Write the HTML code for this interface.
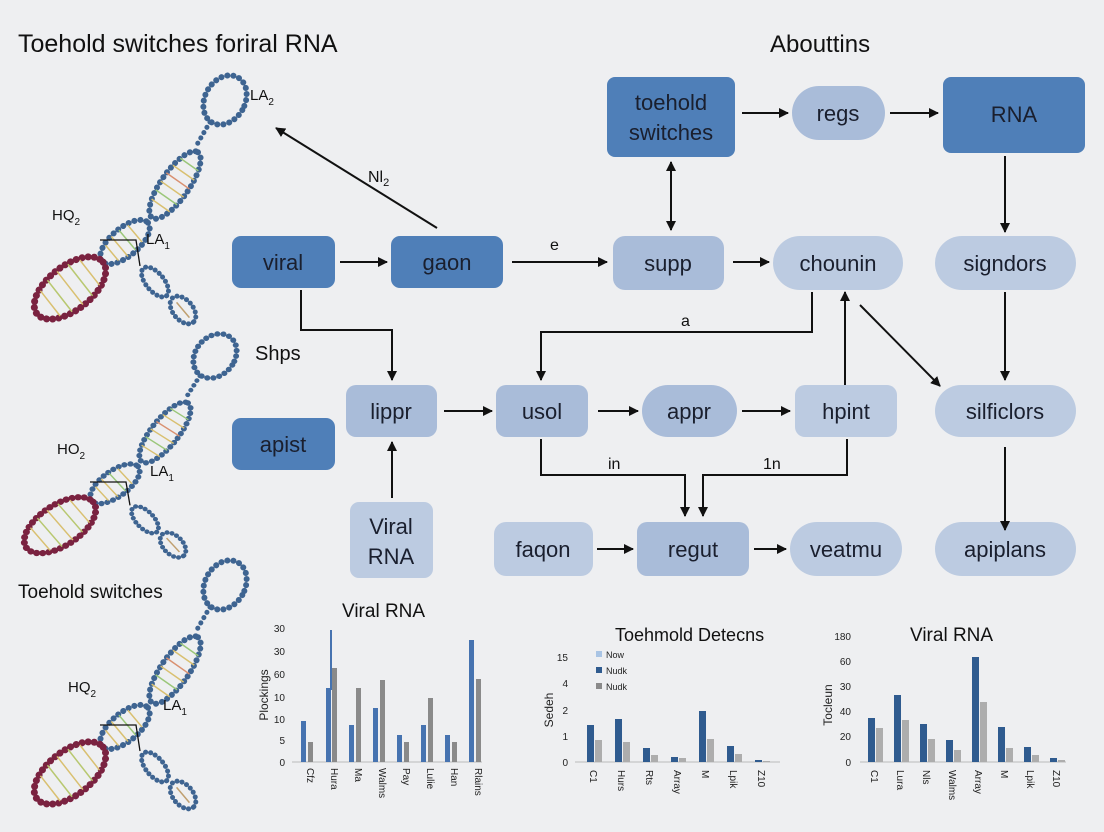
<!DOCTYPE html>
<html><head><meta charset="utf-8"><style>
html,body{margin:0;padding:0;background:#eeeff1;}
svg{display:block;font-family:"Liberation Sans",Arial,sans-serif;}
</style></head><body>
<svg width="1104" height="832" viewBox="0 0 1104 832" xmlns="http://www.w3.org/2000/svg">
<defs>
<marker id="ah" markerWidth="10" markerHeight="10" refX="9" refY="5" orient="auto" markerUnits="userSpaceOnUse"><path d="M0,0 L10,5 L0,10 z" fill="#111"/></marker>
<g id="helix">
  <!-- top loop -->
  <ellipse cx="225" cy="40" rx="20" ry="26" transform="rotate(30 225 40)" fill="none" stroke="#3e6491" stroke-width="6" stroke-dasharray="0.1 6" stroke-linecap="round"/>
  <line x1="210" y1="62" x2="195" y2="88" stroke="#3e6491" stroke-width="5" stroke-dasharray="0.1 6" stroke-linecap="round"/>
  <g transform="rotate(-55 175 125)">
    <ellipse cx="175" cy="125" rx="40" ry="14" fill="none" stroke="#3e6491" stroke-width="6" stroke-dasharray="0.1 6" stroke-linecap="round"/>
    <g stroke="#d9c070" stroke-width="1.5"><line x1="150" y1="114" x2="150" y2="136"/><line x1="160" y1="112" x2="160" y2="138" stroke="#9bc77a"/><line x1="170" y1="111" x2="170" y2="139"/><line x1="180" y1="111" x2="180" y2="139" stroke="#d99070"/><line x1="190" y1="112" x2="190" y2="138"/><line x1="200" y1="114" x2="200" y2="136" stroke="#9bc77a"/></g>
  </g>
  <g transform="rotate(-40 125 182)">
    <ellipse cx="125" cy="182" rx="30" ry="14" fill="none" stroke="#3e6491" stroke-width="6" stroke-dasharray="0.1 6" stroke-linecap="round"/>
    <g stroke="#d9c070" stroke-width="1.5"><line x1="108" y1="172" x2="108" y2="192"/><line x1="118" y1="169" x2="118" y2="195"/><line x1="128" y1="169" x2="128" y2="195" stroke="#9bc77a"/><line x1="138" y1="171" x2="138" y2="193"/></g>
  </g>
  <g transform="rotate(-38 70 228)">
    <ellipse cx="70" cy="228" rx="42" ry="22" fill="none" stroke="#7a2240" stroke-width="7" stroke-dasharray="0.1 6" stroke-linecap="round"/>
    <g stroke="#d9c070" stroke-width="1.5"><line x1="45" y1="212" x2="45" y2="244"/><line x1="57" y1="208" x2="57" y2="248" stroke="#b8c870"/><line x1="70" y1="207" x2="70" y2="249"/><line x1="83" y1="208" x2="83" y2="248" stroke="#b8c870"/><line x1="95" y1="212" x2="95" y2="244"/></g>
  </g>
  <g transform="rotate(50 155 222)"><ellipse cx="155" cy="222" rx="18" ry="9" fill="none" stroke="#3e6491" stroke-width="5" stroke-dasharray="0.1 5" stroke-linecap="round"/></g>
  <g transform="rotate(50 183 250)"><ellipse cx="183" cy="250" rx="16" ry="10" fill="none" stroke="#3e6491" stroke-width="5" stroke-dasharray="0.1 5" stroke-linecap="round"/><line x1="173" y1="250" x2="193" y2="250" stroke="#c0a070" stroke-width="1.5"/></g>
  <path d="M100 180 L136 180 L140 206" fill="none" stroke="#111" stroke-width="1.3"/>
</g>
</defs>

<rect width="1104" height="832" fill="#eeeff1"/>

<!-- helices -->
<use href="#helix" transform="translate(0,60)"/>
<use href="#helix" transform="translate(-10,320) scale(1,0.9)"/>
<use href="#helix" transform="translate(0,545)"/>
<g font-size="15" fill="#111">
<text x="250" y="100">LA<tspan font-size="10" dy="5">2</tspan></text>
<text x="52" y="220">HQ<tspan font-size="10" dy="5">2</tspan></text>
<text x="146" y="244">LA<tspan font-size="10" dy="5">1</tspan></text>
<text x="57" y="454">HO<tspan font-size="10" dy="5">2</tspan></text>
<text x="150" y="476">LA<tspan font-size="10" dy="5">1</tspan></text>
<text x="68" y="692">HQ<tspan font-size="10" dy="5">2</tspan></text>
<text x="163" y="710">LA<tspan font-size="10" dy="5">1</tspan></text>
</g>

<!-- titles -->
<text x="18" y="52" font-size="25" fill="#111">Toehold switches foriral RNA</text>
<text x="770" y="52" font-size="24" fill="#111">Abouttins</text>
<text x="255" y="360" font-size="20" fill="#111">Shps</text>
<text x="18" y="598" font-size="19" fill="#111">Toehold switches</text>

<!-- nodes -->
<g font-size="22" fill="#1a1f2e" text-anchor="middle">
<rect x="607" y="77" width="128" height="80" rx="8" fill="#4f7fb8"/>
<text x="671" y="110">toehold</text><text x="671" y="140">switches</text>
<rect x="792" y="86" width="93" height="54" rx="27" fill="#a9bcd9"/><text x="838" y="121">regs</text>
<rect x="943" y="77" width="142" height="76" rx="8" fill="#4f7fb8"/><text x="1014" y="122">RNA</text>

<rect x="232" y="236" width="103" height="52" rx="9" fill="#4f7fb8"/><text x="283" y="270">viral</text>
<rect x="391" y="236" width="112" height="52" rx="9" fill="#4f7fb8"/><text x="447" y="270">gaon</text>
<rect x="613" y="236" width="111" height="54" rx="12" fill="#a9bcd9"/><text x="668" y="271">supp</text>
<rect x="773" y="236" width="130" height="54" rx="27" fill="#bccbe1"/><text x="838" y="271">chounin</text>
<rect x="935" y="236" width="141" height="54" rx="27" fill="#bccbe1"/><text x="1005" y="271">signdors</text>

<rect x="346" y="385" width="91" height="52" rx="10" fill="#a9bcd9"/><text x="391" y="419">lippr</text>
<rect x="496" y="385" width="92" height="52" rx="10" fill="#a9bcd9"/><text x="542" y="419">usol</text>
<rect x="642" y="385" width="95" height="52" rx="26" fill="#a9bcd9"/><text x="689" y="419">appr</text>
<rect x="795" y="385" width="102" height="52" rx="10" fill="#bccbe1"/><text x="846" y="419">hpint</text>
<rect x="935" y="385" width="141" height="52" rx="26" fill="#bccbe1"/><text x="1005" y="419">silficlors</text>

<rect x="232" y="418" width="103" height="52" rx="9" fill="#4f7fb8"/><text x="283" y="452">apist</text>
<rect x="350" y="502" width="83" height="76" rx="9" fill="#bccbe1"/><text x="391" y="534">Viral</text><text x="391" y="564">RNA</text>
<rect x="494" y="522" width="99" height="54" rx="12" fill="#bccbe1"/><text x="543" y="557">faqon</text>
<rect x="637" y="522" width="112" height="54" rx="10" fill="#a9bcd9"/><text x="693" y="557">regut</text>
<rect x="790" y="522" width="112" height="54" rx="27" fill="#bccbe1"/><text x="846" y="557">veatmu</text>
<rect x="935" y="522" width="141" height="54" rx="27" fill="#bccbe1"/><text x="1005" y="557">apiplans</text>
</g>

<!-- connectors -->
<g stroke="#111" stroke-width="2" fill="none" marker-end="url(#ah)">
<line x1="742" y1="113" x2="788" y2="113"/>
<line x1="890" y1="113" x2="938" y2="113"/>
<line x1="1005" y1="156" x2="1005" y2="232"/>
<line x1="671" y1="192" x2="671" y2="162"/>
<line x1="671" y1="192" x2="671" y2="230"/>
<line x1="340" y1="262" x2="387" y2="262"/>
<line x1="512" y1="262" x2="607" y2="262"/>
<line x1="733" y1="262" x2="769" y2="262"/>
<line x1="437" y1="228" x2="276" y2="128"/>
<path d="M812 292 L812 332 L541 332 L541 380"/>
<line x1="845" y1="385" x2="845" y2="292"/>
<line x1="860" y1="305" x2="940" y2="386"/>
<line x1="1005" y1="292" x2="1005" y2="380"/>
<line x1="1005" y1="447" x2="1005" y2="530"/>
<path d="M301 290 L301 330 L392 330 L392 380"/>
<line x1="392" y1="498" x2="392" y2="442"/>
<line x1="444" y1="411" x2="492" y2="411"/>
<line x1="598" y1="411" x2="638" y2="411"/>
<line x1="742" y1="411" x2="790" y2="411"/>
<path d="M541 439 L541 475 L685 475 L685 516"/>
<path d="M847 439 L847 475 L703 475 L703 516"/>
<line x1="597" y1="549" x2="633" y2="549"/>
<line x1="754" y1="549" x2="786" y2="549"/>
</g>
<g font-size="16" fill="#111">
<text x="368" y="182">Nl<tspan font-size="11" dy="4">2</tspan></text>
<text x="550" y="250">e</text>
<text x="681" y="326">a</text>
<text x="608" y="469">in</text>
<text x="763" y="469">1n</text>
</g>

<!-- chart 1 -->
<text x="342" y="617" font-size="19" fill="#111">Viral RNA</text>
<g font-size="10" fill="#222" text-anchor="end">
<text x="285" y="632">30</text><text x="285" y="655">30</text><text x="285" y="678">60</text><text x="285" y="701">10</text><text x="285" y="723">10</text><text x="285" y="744">5</text><text x="285" y="766">0</text>
</g>
<text transform="translate(268,695) rotate(-90)" font-size="12" fill="#222" text-anchor="middle">Plockings</text>
<line x1="292" y1="762" x2="482" y2="762" stroke="#bbb"/>
<g fill="#4673b0">
<rect x="301" y="721" width="5" height="41"/><rect x="326" y="688" width="5" height="74"/><rect x="330" y="630" width="2" height="60"/><rect x="349" y="725" width="5" height="37"/><rect x="373" y="708" width="5" height="54"/><rect x="397" y="735" width="5" height="27"/><rect x="421" y="725" width="5" height="37"/><rect x="445" y="735" width="5" height="27"/><rect x="469" y="640" width="5" height="122"/>
</g>
<g fill="#8a8a8a">
<rect x="308" y="742" width="5" height="20"/><rect x="332" y="668" width="5" height="94"/><rect x="356" y="688" width="5" height="74"/><rect x="380" y="680" width="5" height="82"/><rect x="404" y="742" width="5" height="20"/><rect x="428" y="698" width="5" height="64"/><rect x="452" y="742" width="5" height="20"/><rect x="476" y="679" width="5" height="83"/>
</g>
<g font-size="10" fill="#222">
<text transform="translate(307,768) rotate(90)">Cfz</text><text transform="translate(331,768) rotate(90)">Hura</text><text transform="translate(355,768) rotate(90)">Ma</text><text transform="translate(379,768) rotate(90)">Walms</text><text transform="translate(403,768) rotate(90)">Pay</text><text transform="translate(427,768) rotate(90)">Lulie</text><text transform="translate(451,768) rotate(90)">Han</text><text transform="translate(475,768) rotate(90)">Rlains</text>
</g>

<!-- chart 2 -->
<text x="615" y="641" font-size="18" fill="#111">Toehmold Detecns</text>
<g font-size="10" fill="#222" text-anchor="end">
<text x="568" y="661">15</text><text x="568" y="687">4</text><text x="568" y="714">2</text><text x="568" y="740">1</text><text x="568" y="766">0</text>
</g>
<text transform="translate(553,710) rotate(-90)" font-size="12" fill="#222" text-anchor="middle">Sedeh</text>
<rect x="596" y="651" width="6" height="6" fill="#a9c4e4"/><text x="606" y="658" font-size="9" fill="#222">Now</text>
<rect x="596" y="667" width="6" height="6" fill="#2f5b8f"/><text x="606" y="674" font-size="9" fill="#222">Nudk</text>
<rect x="596" y="683" width="6" height="6" fill="#8a8a8a"/><text x="606" y="690" font-size="9" fill="#222">Nudk</text>
<line x1="575" y1="762" x2="780" y2="762" stroke="#bbb"/>
<g fill="#2f5b8f">
<rect x="587" y="725" width="7" height="37"/><rect x="615" y="719" width="7" height="43"/><rect x="643" y="748" width="7" height="14"/><rect x="671" y="757" width="7" height="5"/><rect x="699" y="711" width="7" height="51"/><rect x="727" y="746" width="7" height="16"/><rect x="755" y="760" width="7" height="2"/>
</g>
<g fill="#adadad">
<rect x="595" y="740" width="7" height="22"/><rect x="623" y="742" width="7" height="20"/><rect x="651" y="755" width="7" height="7"/><rect x="679" y="758" width="7" height="4"/><rect x="707" y="739" width="7" height="23"/><rect x="735" y="754" width="7" height="8"/><rect x="763" y="761" width="7" height="1"/>
</g>
<g font-size="10" fill="#222">
<text transform="translate(590,770) rotate(90)">C1</text><text transform="translate(618,770) rotate(90)">Hurs</text><text transform="translate(646,770) rotate(90)">Rts</text><text transform="translate(674,770) rotate(90)">Array</text><text transform="translate(702,770) rotate(90)">M</text><text transform="translate(730,770) rotate(90)">Lpik</text><text transform="translate(758,770) rotate(90)">Z10</text>
</g>

<!-- chart 3 -->
<text x="910" y="641" font-size="19" fill="#111">Viral RNA</text>
<g font-size="10" fill="#222" text-anchor="end">
<text x="851" y="640">180</text><text x="851" y="665">60</text><text x="851" y="690">30</text><text x="851" y="715">40</text><text x="851" y="740">20</text><text x="851" y="766">0</text>
</g>
<text transform="translate(832,705) rotate(-90)" font-size="12" fill="#222" text-anchor="middle">Tocleun</text>
<line x1="860" y1="762" x2="1066" y2="762" stroke="#bbb"/>
<g fill="#2f5b8f">
<rect x="868" y="718" width="7" height="44"/><rect x="894" y="695" width="7" height="67"/><rect x="920" y="724" width="7" height="38"/><rect x="946" y="740" width="7" height="22"/><rect x="972" y="657" width="7" height="105"/><rect x="998" y="727" width="7" height="35"/><rect x="1024" y="747" width="7" height="15"/><rect x="1050" y="758" width="7" height="4"/>
</g>
<g fill="#adadad">
<rect x="876" y="728" width="7" height="34"/><rect x="902" y="720" width="7" height="42"/><rect x="928" y="739" width="7" height="23"/><rect x="954" y="750" width="7" height="12"/><rect x="980" y="702" width="7" height="60"/><rect x="1006" y="748" width="7" height="14"/><rect x="1032" y="755" width="7" height="7"/><rect x="1058" y="760" width="7" height="2"/>
</g>
<g font-size="10" fill="#222">
<text transform="translate(871,770) rotate(90)">C1</text><text transform="translate(897,770) rotate(90)">Lura</text><text transform="translate(923,770) rotate(90)">Nls</text><text transform="translate(949,770) rotate(90)">Walms</text><text transform="translate(975,770) rotate(90)">Array</text><text transform="translate(1001,770) rotate(90)">M</text><text transform="translate(1027,770) rotate(90)">Lpik</text><text transform="translate(1053,770) rotate(90)">Z10</text>
</g>
</svg>
</body></html>
